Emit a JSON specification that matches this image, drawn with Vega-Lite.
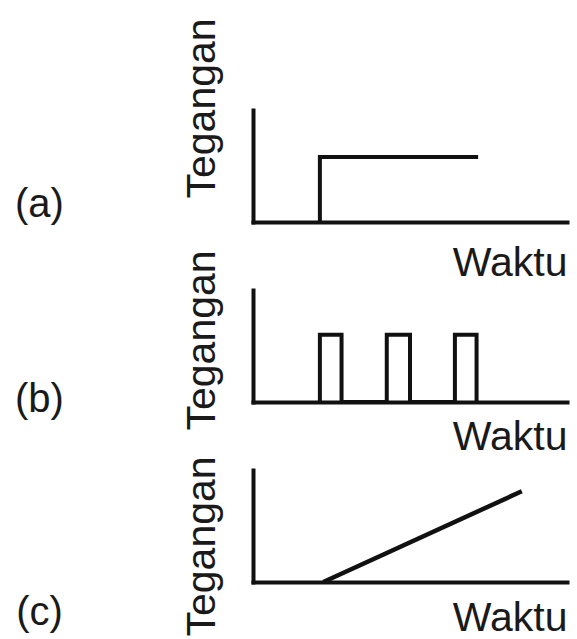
{
  "$schema": "https://vega.github.io/schema/vega-lite/v6.json",
  "autosize": {"type": "none"},
  "padding": {"left": 253, "top": 110, "right": 324, "bottom": 529},
  "background": "white",
  "config": {
    "view": {"stroke": null},
    "font": "Liberation Sans",
    "axis": {
      "grid": false, "ticks": false, "labels": false,
      "domainColor": "#111111", "domainWidth": 4, "domainCap": "square",
      "titleFont": "Liberation Sans", "titleFontSize": 41, "titleFontWeight": "normal", "titleColor": "#1a1a1a"
    },
    "axisX": {"titleAnchor": "end", "titleAlign": "right", "titleBaseline": "top", "titlePadding": 18},
    "axisY": {"titleAlign": "left", "titleBaseline": "bottom", "titlePadding": 30, "titleAngle": 270}
  },
  "datasets": {
    "sig": [
      {"panel": "a", "i": 0, "waktu": 2.13, "tegangan": 0},
      {"panel": "a", "i": 1, "waktu": 2.13, "tegangan": 0.58},
      {"panel": "a", "i": 2, "waktu": 7.17, "tegangan": 0.58},
      {"panel": "b", "i": 0, "waktu": 2.13, "tegangan": 0},
      {"panel": "b", "i": 1, "waktu": 2.13, "tegangan": 0.6},
      {"panel": "b", "i": 2, "waktu": 2.82, "tegangan": 0.6},
      {"panel": "b", "i": 3, "waktu": 2.82, "tegangan": 0},
      {"panel": "b", "i": 4, "waktu": 4.26, "tegangan": 0},
      {"panel": "b", "i": 5, "waktu": 4.26, "tegangan": 0.6},
      {"panel": "b", "i": 6, "waktu": 5.0, "tegangan": 0.6},
      {"panel": "b", "i": 7, "waktu": 5.0, "tegangan": 0},
      {"panel": "b", "i": 8, "waktu": 6.43, "tegangan": 0},
      {"panel": "b", "i": 9, "waktu": 6.43, "tegangan": 0.6},
      {"panel": "b", "i": 10, "waktu": 7.12, "tegangan": 0.6},
      {"panel": "b", "i": 11, "waktu": 7.12, "tegangan": 0},
      {"panel": "c", "i": 0, "waktu": 2.24, "tegangan": 0},
      {"panel": "c", "i": 1, "waktu": 8.56, "tegangan": 0.81}
    ]
  },
  "spacing": 68,
  "bounds": "flush",
  "vconcat": [
    {
      "width": 314, "height": 112,
      "layer": [
        {
          "data": {"name": "sig"},
          "transform": [{"filter": "datum.panel === 'a'"}],
          "mark": {"type": "line", "color": "#111111", "strokeWidth": 4, "strokeJoin": "miter"},
          "encoding": {
            "x": {"field": "waktu", "type": "quantitative", "scale": {"domain": [0, 10], "nice": false}, "axis": {"title": "Waktu", "titlePadding": 21}},
            "y": {"field": "tegangan", "type": "quantitative", "scale": {"domain": [0, 1], "nice": false}, "axis": {"title": "Tegangan", "titleY": 88}},
            "order": {"field": "i"}
          }
        },
        {
          "data": {"values": [{"label": "(a)"}]},
          "mark": {"type": "text", "fontSize": 40, "font": "Liberation Sans", "color": "#1a1a1a", "align": "center", "baseline": "middle"},
          "encoding": {
            "x": {"datum": -6.8, "type": "quantitative"},
            "y": {"datum": 0.152, "type": "quantitative"},
            "text": {"field": "label"}
          }
        }
      ]
    },
    {
      "width": 314, "height": 112,
      "layer": [
        {
          "data": {"name": "sig"},
          "transform": [{"filter": "datum.panel === 'b'"}],
          "mark": {"type": "line", "color": "#111111", "strokeWidth": 4, "strokeJoin": "miter"},
          "encoding": {
            "x": {"field": "waktu", "type": "quantitative", "scale": {"domain": [0, 10], "nice": false}, "axis": {"title": "Waktu", "titlePadding": 15}},
            "y": {"field": "tegangan", "type": "quantitative", "scale": {"domain": [0, 1], "nice": false}, "axis": {"title": "Tegangan", "titleY": 140}},
            "order": {"field": "i"}
          }
        },
        {
          "data": {"values": [{"label": "(b)"}]},
          "mark": {"type": "text", "fontSize": 40, "font": "Liberation Sans", "color": "#1a1a1a", "align": "center", "baseline": "middle"},
          "encoding": {
            "x": {"datum": -6.8, "type": "quantitative"},
            "y": {"datum": 0.018, "type": "quantitative"},
            "text": {"field": "label"}
          }
        }
      ]
    },
    {
      "width": 314, "height": 112,
      "layer": [
        {
          "data": {"name": "sig"},
          "transform": [{"filter": "datum.panel === 'c'"}],
          "mark": {"type": "line", "color": "#111111", "strokeWidth": 4.5, "strokeJoin": "miter"},
          "encoding": {
            "x": {"field": "waktu", "type": "quantitative", "scale": {"domain": [0, 10], "nice": false}, "axis": {"title": "Waktu", "titlePadding": 16}},
            "y": {"field": "tegangan", "type": "quantitative", "scale": {"domain": [0, 1], "nice": false}, "axis": {"title": "Tegangan", "titleY": 166}},
            "order": {"field": "i"}
          }
        },
        {
          "data": {"values": [{"label": "(c)"}]},
          "mark": {"type": "text", "fontSize": 40, "font": "Liberation Sans", "color": "#1a1a1a", "align": "center", "baseline": "middle"},
          "encoding": {
            "x": {"datum": -6.8, "type": "quantitative"},
            "y": {"datum": -0.277, "type": "quantitative"},
            "text": {"field": "label"}
          }
        }
      ]
    }
  ]
}
